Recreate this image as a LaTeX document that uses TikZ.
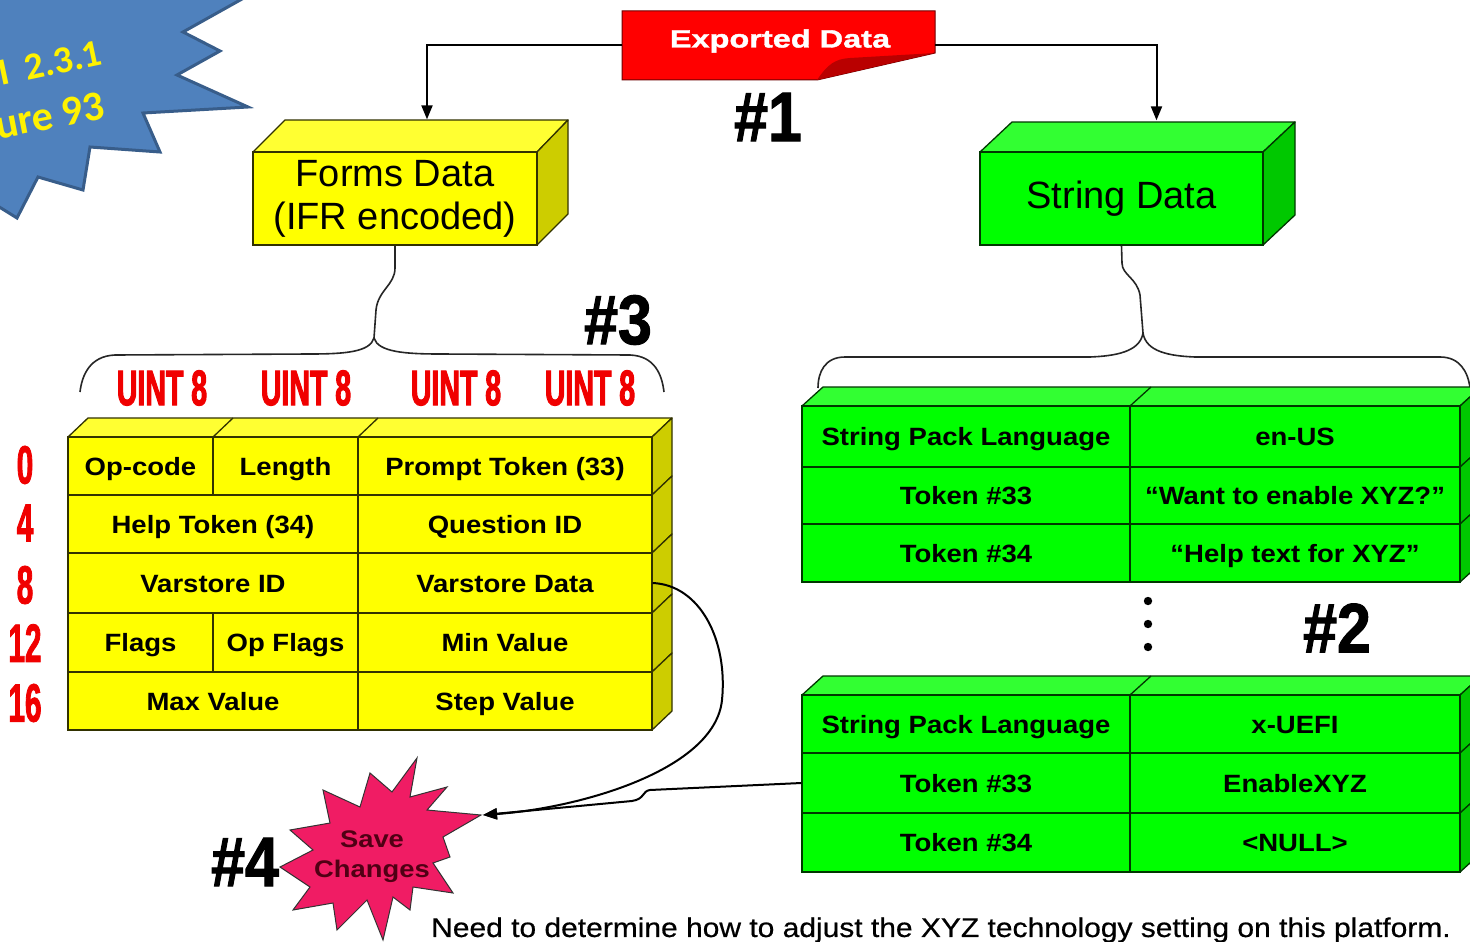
\documentclass[tikz,border=0pt]{standalone}
\usepackage{fontspec}
\setmainfont{Liberation Sans}
\newfontfamily\carl{Carlito}
\newfontfamily\cellf{Liberation Sans Bold}[FakeStretch=1.1]
\newfontfamily\banf{Liberation Sans Bold}[FakeStretch=1.3,FakeBold=1.5]
\newfontfamily\savef{Liberation Sans Bold}[FakeStretch=1.14]
\newfontfamily\hashf{Liberation Sans Bold}[FakeStretch=0.87,FakeBold=1.5]
\newfontfamily\uintf{Liberation Sans Bold}[FakeStretch=0.57,FakeBold=2]
\newfontfamily\numf{Liberation Sans Bold}[FakeStretch=0.55,FakeBold=1.5]
\newfontfamily\notef{Liberation Sans}[FakeStretch=1.11,FakeBold=0.6]
\usetikzlibrary{arrows.meta,calc}
\definecolor{yel}{RGB}{255,255,0}
\definecolor{yeltop}{RGB}{255,255,50}
\definecolor{yelside}{RGB}{205,205,0}
\definecolor{yedge}{RGB}{50,50,0}
\definecolor{grn}{RGB}{0,255,0}
\definecolor{grntop}{RGB}{50,255,50}
\definecolor{grnside}{RGB}{0,200,0}
\definecolor{gedge}{RGB}{0,55,0}
\definecolor{starblue}{RGB}{79,129,189}
\definecolor{starline}{RGB}{56,93,138}
\definecolor{bannerred}{RGB}{255,0,0}
\definecolor{folddark}{RGB}{185,0,0}
\definecolor{bannerline}{RGB}{110,0,0}
\definecolor{burst}{RGB}{240,28,100}
\definecolor{uintred}{RGB}{240,0,0}
\definecolor{savetext}{RGB}{80,0,20}
\tikzset{
  conn/.style={line width=2pt, -{Triangle[length=14pt,width=11pt]}},
  bracestyle/.style={line width=1.6pt, black!85},
  ycell/.style={draw=yedge, fill=yel, line width=1.3pt, inner sep=0pt,
    text height=18pt, text depth=0pt, font=\cellf\fontsize{25}{25}\selectfont},
  gcell/.style={draw=gedge, fill=grn, line width=1.3pt, inner sep=0pt,
    text height=18pt, text depth=0pt, font=\cellf\fontsize{25}{25}\selectfont},
  yface/.style={draw=yedge, line width=1.3pt, line join=round},
  gface/.style={draw=gedge, line width=1.3pt, line join=round},
  hashlabel/.style={font=\hashf\fontsize{70}{70}\selectfont, inner sep=0pt},
  uintlabel/.style={font=\uintf\fontsize{50}{50}\selectfont, text=uintred, inner sep=0pt},
  numlabel/.style={font=\numf\fontsize{54}{54}\selectfont, text=uintred, inner sep=0pt},
  startext/.style={text=yellow, inner sep=0pt, font=\carl\bfseries\fontsize{38}{38}\selectfont},
}
\begin{document}
\begin{tikzpicture}[x=1pt,y=-1pt]
\clip (0,0) rectangle (1470,942);
\fill[white] (0,0) rectangle (1470,942);

% ---- blue starburst (top left) ----
\filldraw[fill=starblue, draw=starline, line width=3pt, line join=miter]
  (-20,-20) -- (276,-20) -- (183,32) -- (220,51) -- (177,75) -- (248,107)
  -- (143,113) -- (160,152) -- (90,147) -- (83,190) -- (38,177) -- (17,218)
  -- (-20,195) -- cycle;
\node[startext, anchor=base east, rotate=12] (ver) at (104,64) {UEFI\hspace{0.42em}2.3.1};
\node[startext, anchor=base east, rotate=11, font=\carl\bfseries\fontsize{42}{42}\selectfont] (fig) at (107,118) {Figure 93};

% ---- Exported Data banner ----
\filldraw[fill=bannerred, draw=bannerline, line width=1pt]
  (622,11) -- (935,11) -- (935,53) -- (817,80) -- (622,80) -- cycle;
\fill[folddark] (817,80) .. controls (828,64) and (835,59) .. (850,58) -- (935,53) -- cycle;
\node[inner sep=0pt, minimum width=313pt, minimum height=69pt] (exp) at (778.5,45.5) {};
\node[text=white, inner sep=0pt, font=\banf\fontsize{25}{25}\selectfont] (exptext) at (780,41) {Exported Data};
\node[hashlabel] (h1) at (768,117) {\#1};

% ---- Forms Data box ----
\filldraw[yface, fill=yeltop] (253,152) -- (285,120) -- (568,120) -- (537,152) -- cycle;
\filldraw[yface, fill=yelside] (537,152) -- (568,120) -- (568,214) -- (537,245) -- cycle;
\node[draw=yedge, fill=yel, line width=1.3pt, minimum width=284pt, minimum height=93pt,
      inner sep=0pt, align=center, font=\fontsize{38}{43}\selectfont] (forms) at (395,198.5)
      {\raisebox{-3pt}{Forms Data}\\\raisebox{-3pt}{(IFR encoded)}};

% ---- String Data box ----
\filldraw[gface, fill=grntop] (980,152) -- (1012,122) -- (1295,122) -- (1263,152) -- cycle;
\filldraw[gface, fill=grnside] (1263,152) -- (1295,122) -- (1295,215) -- (1263,245) -- cycle;
\node[draw=gedge, fill=grn, line width=1.3pt, minimum width=283pt, minimum height=93pt,
      inner sep=0pt, font=\fontsize{38}{38}\selectfont] (strd) at (1121.5,198.5) {String Data};

% ---- arrows from Exported Data ----
\draw[conn] (exp.west) -| ($(forms.north)+(32,-32)$);
\draw[conn] (exp.east) -| ($(strd.north)+(35,-31)$);

% ---- braces ----
\coordinate (lj) at (374,338);
\coordinate (rj) at (1143,333);
\draw[bracestyle] (forms.south) -- (395,268) .. controls (395,285) and (378,290) .. (376,310) -- (lj);
\draw[bracestyle] (lj) .. controls (370,352) and (345,354) .. (310,354) -- (115,355)
  .. controls (90,356) and (82,375) .. (80,392);
\draw[bracestyle] (lj) .. controls (378,352) and (405,354) .. (440,354) -- (630,355)
  .. controls (655,356) and (662,375) .. (664,392);
\draw[bracestyle] (strd.south) -- (1122,263) .. controls (1122,275) and (1137,278) .. (1140,295) -- (rj);
\draw[bracestyle] (rj) .. controls (1140,352) and (1115,356) .. (1090,357) -- (845,357)
  .. controls (825,357) and (818,372) .. (818,388);
\draw[bracestyle] (rj) .. controls (1146,352) and (1170,356) .. (1195,357) -- (1440,357)
  .. controls (1460,357) and (1468,372) .. (1470,388);
\node[hashlabel] (h3) at (618,320) {\#3};

% ---- UINT 8 labels ----
\node[uintlabel] (u1) at (162,388) {UINT 8};
\node[uintlabel] (u2) at (306,388) {UINT 8};
\node[uintlabel] (u3) at (456,388) {UINT 8};
\node[uintlabel] (u4) at (590,388) {UINT 8};

% ---- row offsets ----
\node[numlabel] (n0) at (25,465) {0};
\node[numlabel] (n4) at (25,523) {4};
\node[numlabel] (n8) at (25,585) {8};
\node[numlabel] (n12) at (25,643) {12};
\node[numlabel] (n16) at (25,703) {16};

% ---- yellow IFR table ----
\filldraw[yface, fill=yeltop] (68,437) -- (88,418) -- (672,418) -- (652,437) -- cycle;
\draw[yface] (213,437) -- (233,418);
\draw[yface] (358,437) -- (378,418);
\foreach \t/\b in {437/495, 495/553, 553/613, 613/672, 672/730}
  \filldraw[yface, fill=yelside] (652,\t) -- (672,\t-19) -- (672,\b-19) -- (652,\b) -- cycle;
\node[ycell, minimum width=145pt, minimum height=58pt] (opcode) at (140.5,466) {Op-code};
\node[ycell, minimum width=145pt, minimum height=58pt] (length) at (285.5,466) {Length};
\node[ycell, minimum width=294pt, minimum height=58pt] (prompt) at (505,466) {Prompt Token (33)};
\node[ycell, minimum width=290pt, minimum height=58pt] (help) at (213,524) {Help Token (34)};
\node[ycell, minimum width=294pt, minimum height=58pt] (qid) at (505,524) {Question ID};
\node[ycell, minimum width=290pt, minimum height=60pt] (vsid) at (213,583) {Varstore ID};
\node[ycell, minimum width=294pt, minimum height=60pt] (vsdata) at (505,583) {Varstore Data};
\node[ycell, minimum width=145pt, minimum height=59pt] (flags) at (140.5,642.5) {Flags};
\node[ycell, minimum width=145pt, minimum height=59pt] (opflags) at (285.5,642.5) {Op Flags};
\node[ycell, minimum width=294pt, minimum height=59pt] (minv) at (505,642.5) {Min Value};
\node[ycell, minimum width=290pt, minimum height=58pt] (maxv) at (213,701) {Max Value};
\node[ycell, minimum width=294pt, minimum height=58pt] (stepv) at (505,701) {Step Value};

% ---- green string table 1 ----
\filldraw[gface, fill=grntop] (802,406) -- (823,387) -- (1481,387) -- (1460,406) -- cycle;
\draw[gface] (1130,406) -- (1151,387);
\foreach \t/\b in {406/467, 467/524, 524/582}
  \filldraw[gface, fill=grnside] (1460,\t) -- (1481,\t-19) -- (1481,\b-19) -- (1460,\b) -- cycle;
\node[gcell, minimum width=328pt, minimum height=61pt] (spla) at (966,436.5) {String Pack Language};
\node[gcell, minimum width=330pt, minimum height=61pt] (enus) at (1295,436.5) {en-US};
\node[gcell, minimum width=328pt, minimum height=57pt] (tka) at (966,495.5) {Token \#33};
\node[gcell, minimum width=330pt, minimum height=57pt] (want) at (1295,495.5) {“Want to enable XYZ?”};
\node[gcell, minimum width=328pt, minimum height=58pt] (tkb) at (966,553) {Token \#34};
\node[gcell, minimum width=330pt, minimum height=58pt] (helptxt) at (1295,553) {“Help text for XYZ”};

% ---- dots and #2 ----
\fill (1148,601) circle (4.2pt);
\fill (1148,624) circle (4.2pt);
\fill (1148,647) circle (4.2pt);
\node[hashlabel] (h2) at (1337,628) {\#2};

% ---- green string table 2 ----
\filldraw[gface, fill=grntop] (802,695) -- (823,676) -- (1481,676) -- (1460,695) -- cycle;
\draw[gface] (1130,695) -- (1151,676);
\foreach \t/\b in {695/753, 753/813, 813/872}
  \filldraw[gface, fill=grnside] (1460,\t) -- (1481,\t-19) -- (1481,\b-19) -- (1460,\b) -- cycle;
\node[gcell, minimum width=328pt, minimum height=58pt] (splb) at (966,724) {String Pack Language};
\node[gcell, minimum width=330pt, minimum height=58pt] (xuefi) at (1295,724) {x-UEFI};
\node[gcell, minimum width=328pt, minimum height=60pt] (tkc) at (966,783) {Token \#33};
\node[gcell, minimum width=330pt, minimum height=60pt] (enxyz) at (1295,783) {EnableXYZ};
\node[gcell, minimum width=328pt, minimum height=59pt] (tkd) at (966,842.5) {Token \#34};
\node[gcell, minimum width=330pt, minimum height=59pt] (nullv) at (1295,842.5) {<NULL>};

% ---- Save Changes burst ----
\filldraw[fill=burst, draw=black!80, line width=1pt, line join=miter]
  (417,758) -- (392,792) -- (370,773) -- (360,807) -- (323,790) -- (330,823)
  -- (290,830) -- (313,850) -- (280,867) -- (310,887) -- (293,910) -- (333,903)
  -- (337,930) -- (367,900) -- (383,940) -- (393,897) -- (410,910) -- (413,887)
  -- (453,893) -- (433,863) -- (450,857) -- (443,837) -- (481,815) -- (427,810)
  -- (447,787) -- (410,797) -- cycle;
\coordinate (savetip) at (483,815);
\node[align=center, text=savetext, inner sep=0pt, font=\savef\fontsize{24}{30}\selectfont] (save) at (372,857) {Save\\Changes};
\node[hashlabel] (h4) at (245,862) {\#4};

% ---- connectors to Save Changes ----
\draw[conn] (vsdata.east) .. controls (700,585) and (728,640) .. (722,700)
  .. controls (715,770) and (580,808) .. (savetip);
\draw[conn] (tkc.west) -- (650,790) .. controls (642,791) and (645,799) .. (632,801) -- (savetip);

% ---- note ----
\node[inner sep=0pt, font=\notef\fontsize{27}{27}\selectfont] (note) at (941,930)
  {Need to determine how to adjust the XYZ technology setting on this platform.};
\end{tikzpicture}
\end{document}
